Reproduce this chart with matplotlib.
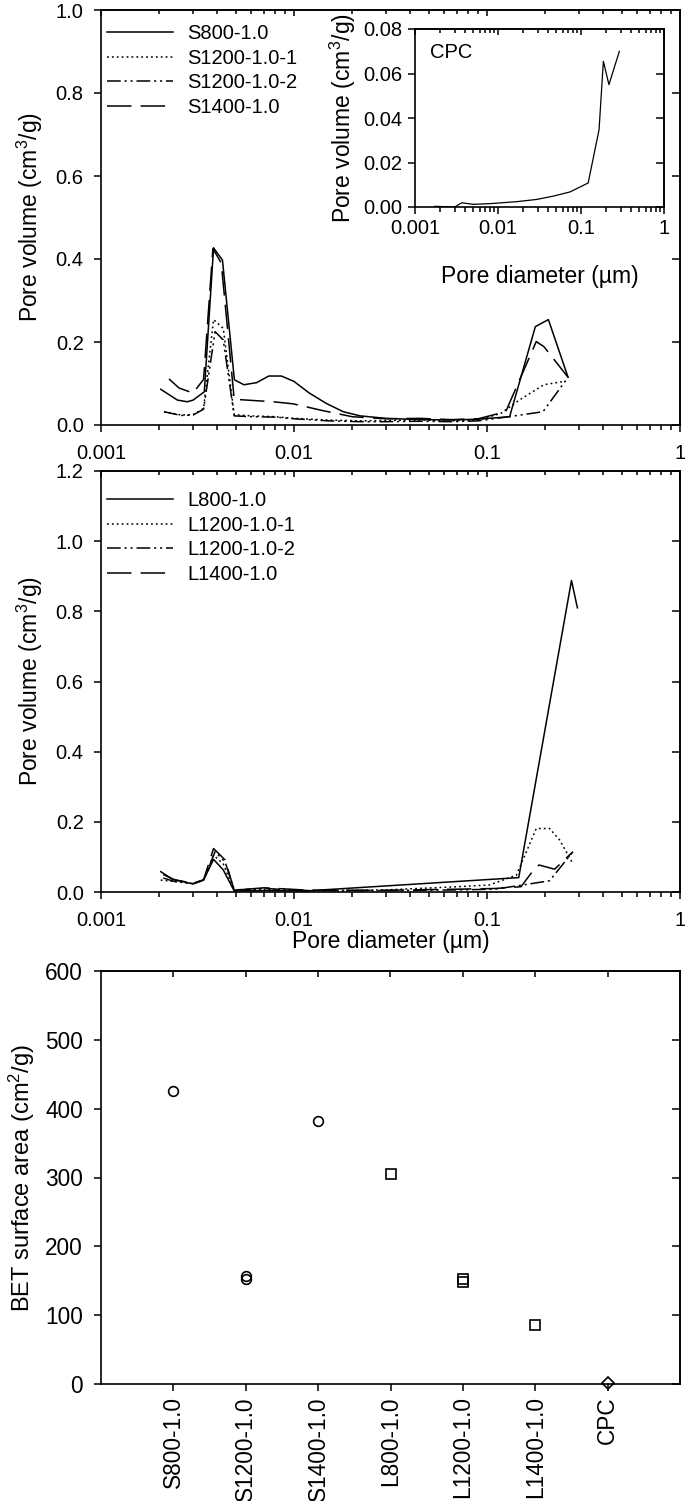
import matplotlib
matplotlib.use("Agg")
import matplotlib.pyplot as plt
from matplotlib.ticker import FormatStrFormatter, LogLocator, FixedLocator, NullFormatter, FuncFormatter

plt.rcParams['font.family'] = ['Liberation Sans', 'DejaVu Sans']
plt.rcParams['axes.linewidth'] = 1.2
plt.rcParams['mathtext.default'] = 'regular'

# ---------------- data ----------------
# Top panel (S series)
s800_x = [0.00204, 0.00249, 0.0028, 0.0030, 0.00343, 0.00383, 0.00426, 0.00491, 0.0055, 0.0064, 0.0074,
          0.0086, 0.0100, 0.0120, 0.0147, 0.0180, 0.022, 0.030, 0.045, 0.065, 0.090, 0.131, 0.178, 0.208, 0.263]
s800_y = [0.086, 0.060, 0.056, 0.060, 0.080, 0.427, 0.397, 0.109, 0.097, 0.102, 0.118,
          0.118, 0.105, 0.077, 0.052, 0.032, 0.022, 0.016, 0.013, 0.012, 0.014, 0.020, 0.237, 0.254, 0.115]

s1200_1_x = [0.00212, 0.0026, 0.0030, 0.0034, 0.00383, 0.0043, 0.0049, 0.0060, 0.0080, 0.0100, 0.015,
             0.022, 0.030, 0.045, 0.065, 0.090, 0.118, 0.147, 0.197, 0.250]
s1200_1_y = [0.032, 0.024, 0.025, 0.040, 0.254, 0.233, 0.025, 0.022, 0.020, 0.016, 0.012,
             0.010, 0.011, 0.012, 0.010, 0.012, 0.028, 0.060, 0.097, 0.105]

s1200_2_x = [0.00212, 0.0026, 0.0030, 0.0034, 0.0039, 0.0043, 0.0049, 0.0060, 0.0080, 0.0100, 0.015,
             0.022, 0.030, 0.045, 0.065, 0.090, 0.130, 0.195, 0.263]
s1200_2_y = [0.032, 0.023, 0.024, 0.038, 0.225, 0.205, 0.022, 0.020, 0.019, 0.015, 0.010,
             0.008, 0.008, 0.009, 0.008, 0.010, 0.020, 0.032, 0.115]

s1400_x = [0.00225, 0.00254, 0.0030, 0.0034, 0.0038, 0.0042, 0.0049, 0.0057, 0.0078, 0.0099, 0.014,
           0.020, 0.030, 0.045, 0.065, 0.090, 0.125, 0.180, 0.197, 0.263]
s1400_y = [0.111, 0.089, 0.077, 0.110, 0.425, 0.390, 0.062, 0.060, 0.056, 0.051, 0.035,
           0.020, 0.015, 0.016, 0.013, 0.015, 0.032, 0.201, 0.189, 0.115]

# Middle panel (L series)
l800_x = [0.00204, 0.00235, 0.0030, 0.0034, 0.00383, 0.0043, 0.0049, 0.0070, 0.0115, 0.146, 0.274, 0.294]
l800_y = [0.058, 0.036, 0.023, 0.034, 0.093, 0.063, 0.003, 0.004, 0.003, 0.041, 0.888, 0.810]

l1200_1_x = [0.00204, 0.0024, 0.0030, 0.0034, 0.00383, 0.0043, 0.0049, 0.007, 0.012, 0.03, 0.07, 0.103,
             0.142, 0.18, 0.211, 0.238, 0.279]
l1200_1_y = [0.034, 0.030, 0.024, 0.034, 0.105, 0.080, 0.004, 0.008, 0.003, 0.006, 0.015, 0.020,
             0.048, 0.181, 0.181, 0.148, 0.080]

l1200_2_x = [0.0021, 0.0024, 0.0030, 0.0034, 0.0039, 0.0044, 0.0049, 0.007, 0.012, 0.03, 0.07, 0.11,
             0.153, 0.211, 0.279]
l1200_2_y = [0.040, 0.030, 0.024, 0.034, 0.115, 0.085, 0.006, 0.010, 0.004, 0.004, 0.006, 0.008,
             0.020, 0.032, 0.115]

l1400_x = [0.0021, 0.0024, 0.0030, 0.0034, 0.00383, 0.0044, 0.0049, 0.007, 0.012, 0.03, 0.07, 0.11,
           0.15, 0.169, 0.186, 0.224, 0.279]
l1400_y = [0.050, 0.035, 0.025, 0.035, 0.124, 0.091, 0.005, 0.012, 0.005, 0.005, 0.008, 0.010,
           0.015, 0.053, 0.077, 0.065, 0.115]

# Inset (CPC)
cpc_x = [0.00174, 0.0030, 0.00366, 0.0050, 0.008, 0.0168, 0.0292, 0.0465, 0.074, 0.122, 0.165, 0.186, 0.217, 0.29]
cpc_y = [0.0003, 0.0, 0.0019, 0.0012, 0.0015, 0.0024, 0.0034, 0.0049, 0.0068, 0.0108, 0.0347, 0.0655, 0.055, 0.070]

# Bottom panel (BET)
bet_categories = ['S800-1.0', 'S1200-1.0', 'S1400-1.0', 'L800-1.0', 'L1200-1.0', 'L1400-1.0', 'CPC']
bet_circle_cat = ['S800-1.0', 'S1200-1.0', 'S1200-1.0', 'S1400-1.0']
bet_circle_val = [426, 157, 153, 382]
bet_square_cat = ['L800-1.0', 'L1200-1.0', 'L1200-1.0', 'L1400-1.0']
bet_square_val = [305, 153, 148, 86]
bet_diamond_cat = ['CPC']
bet_diamond_val = [1]

s_labels = ['S800-1.0', 'S1200-1.0-1', 'S1200-1.0-2', 'S1400-1.0']
l_labels = ['L800-1.0', 'L1200-1.0-1', 'L1200-1.0-2', 'L1400-1.0']

# ---------------- styles ----------------
TICK_FS = 14.5
LABEL_FS = 16.5
BOT_TICK_FS = 16.3
BOT_LABEL_FS = 17
W, H = 685, 1501
styles = ['-', (0, (1.2, 2.0)), (0, (9, 2.5, 1.4, 2.5, 1.4, 2.5)), (0, (16, 6))]
LW = 1.1


def frac(l, t, r, b):
    return [l / W, 1 - b / H, (r - l) / W, (b - t) / H]


def decorate(ax, log, yticks, yfmt, xticks=None, fs=TICK_FS, xpad=9, ypad=7.5):
    ax.tick_params(which='both', direction='out', top=False, right=False, width=1.1,
                   labelsize=fs)
    ax.tick_params(axis='x', pad=xpad)
    ax.tick_params(axis='y', pad=ypad)
    ax.tick_params(which='major', length=5)
    ax.tick_params(which='minor', length=3.5)
    ax.set_yticks(yticks)
    ax.yaxis.set_major_formatter(FormatStrFormatter(yfmt))
    secx = ax.secondary_xaxis('top')
    secy = ax.secondary_yaxis('right')
    if log:
        ax.set_xscale('log')
        ax.set_xlim(0.001, 1)
        ax.xaxis.set_major_locator(FixedLocator([0.001, 0.01, 0.1, 1]))
        ax.xaxis.set_major_formatter(FuncFormatter(lambda v, p: ('%g' % v)))
        ax.xaxis.set_minor_locator(LogLocator(base=10, subs=range(2, 10), numticks=20))
        ax.xaxis.set_minor_formatter(NullFormatter())
        secx.xaxis.set_major_locator(FixedLocator([0.001, 0.01, 0.1, 1]))
        secx.xaxis.set_minor_locator(LogLocator(base=10, subs=range(2, 10), numticks=20))
        secx.xaxis.set_minor_formatter(NullFormatter())
    else:
        secx.set_xticks(xticks)
    secx.tick_params(which='both', direction='in', labeltop=False, width=1.1)
    secx.tick_params(which='major', length=4.5)
    secx.tick_params(which='minor', length=3)
    secy.set_yticks(yticks)
    secy.tick_params(direction='in', labelright=False, length=6, width=1.1)
    return secx, secy


LEG_KW = dict(loc='upper left', frameon=False, fontsize=TICK_FS, handlelength=3.3,
              handletextpad=0.7, labelspacing=0.28, borderaxespad=0.25, borderpad=0.45)

fig = plt.figure(figsize=(W / 100, H / 100), dpi=100)

# ---- top panel ----
ax1 = fig.add_axes(frac(101, 10, 680, 425))
s_x = [s800_x, s1200_1_x, s1200_2_x, s1400_x]
s_y = [s800_y, s1200_1_y, s1200_2_y, s1400_y]
for xs, ys, ls, lab in zip(s_x, s_y, styles, s_labels):
    ax1.plot(xs, ys, color='black', lw=LW, linestyle=ls, label=lab)
decorate(ax1, True, [0, 0.2, 0.4, 0.6, 0.8, 1.0], '%.1f')
ax1.set_ylim(0, 1.0)
ax1.set_ylabel('Pore volume (cm$^3$/g)', fontsize=LABEL_FS, labelpad=8)
ax1.legend(bbox_to_anchor=(-0.014, 1.0), **LEG_KW)

# ---- inset ----
axi = fig.add_axes(frac(415, 29, 664, 207))
axi.plot(cpc_x, cpc_y, color='black', lw=0.9)
decorate(axi, True, [0, 0.02, 0.04, 0.06, 0.08], '%.2f', xpad=4, ypad=4)
axi.set_ylim(0, 0.08)
axi.set_ylabel('Pore volume (cm$^3$/g)', fontsize=LABEL_FS, labelpad=4)
axi.set_xlabel('Pore diameter (µm)', fontsize=LABEL_FS, labelpad=19)
axi.text(0.06, 0.92, 'CPC', transform=axi.transAxes, fontsize=TICK_FS, va='top', ha='left')

# ---- middle panel ----
ax2 = fig.add_axes(frac(101, 471, 680, 892))
l_x = [l800_x, l1200_1_x, l1200_2_x, l1400_x]
l_y = [l800_y, l1200_1_y, l1200_2_y, l1400_y]
for xs, ys, ls, lab in zip(l_x, l_y, styles, l_labels):
    ax2.plot(xs, ys, color='black', lw=LW, linestyle=ls, label=lab)
decorate(ax2, True, [0, 0.2, 0.4, 0.6, 0.8, 1.0, 1.2], '%.1f')
ax2.set_ylim(0, 1.2)
ax2.set_ylabel('Pore volume (cm$^3$/g)', fontsize=LABEL_FS, labelpad=8)
ax2.set_xlabel('Pore diameter (µm)', fontsize=LABEL_FS, labelpad=0)
ax2.legend(bbox_to_anchor=(-0.014, 0.986), **LEG_KW)

# ---- bottom panel ----
ax3 = fig.add_axes(frac(101, 971, 680, 1384))
pos = {c: i + 1 for i, c in enumerate(bet_categories)}
ax3.plot([pos[c] for c in bet_circle_cat], bet_circle_val, linestyle='none', marker='o',
         mfc='none', mec='black', ms=7, mew=1.2, clip_on=False)
ax3.plot([pos[c] for c in bet_square_cat], bet_square_val, linestyle='none', marker='s',
         mfc='none', mec='black', ms=7, mew=1.2, clip_on=False)
ax3.plot([pos[c] for c in bet_diamond_cat], bet_diamond_val, linestyle='none', marker='D',
         mfc='none', mec='black', ms=6, mew=1.2, clip_on=False)
decorate(ax3, False, [0, 100, 200, 300, 400, 500, 600], '%d',
         xticks=[pos[c] for c in bet_categories], fs=BOT_TICK_FS, xpad=4, ypad=8)
ax3.set_xlim(0, 8)
ax3.set_ylim(0, 600)
ax3.set_xticks([pos[c] for c in bet_categories])
ax3.set_xticklabels(bet_categories, rotation=90)
ax3.set_ylabel('BET surface area (cm$^2$/g)', fontsize=BOT_LABEL_FS, labelpad=6)

fig.savefig('out.png', dpi=100)
